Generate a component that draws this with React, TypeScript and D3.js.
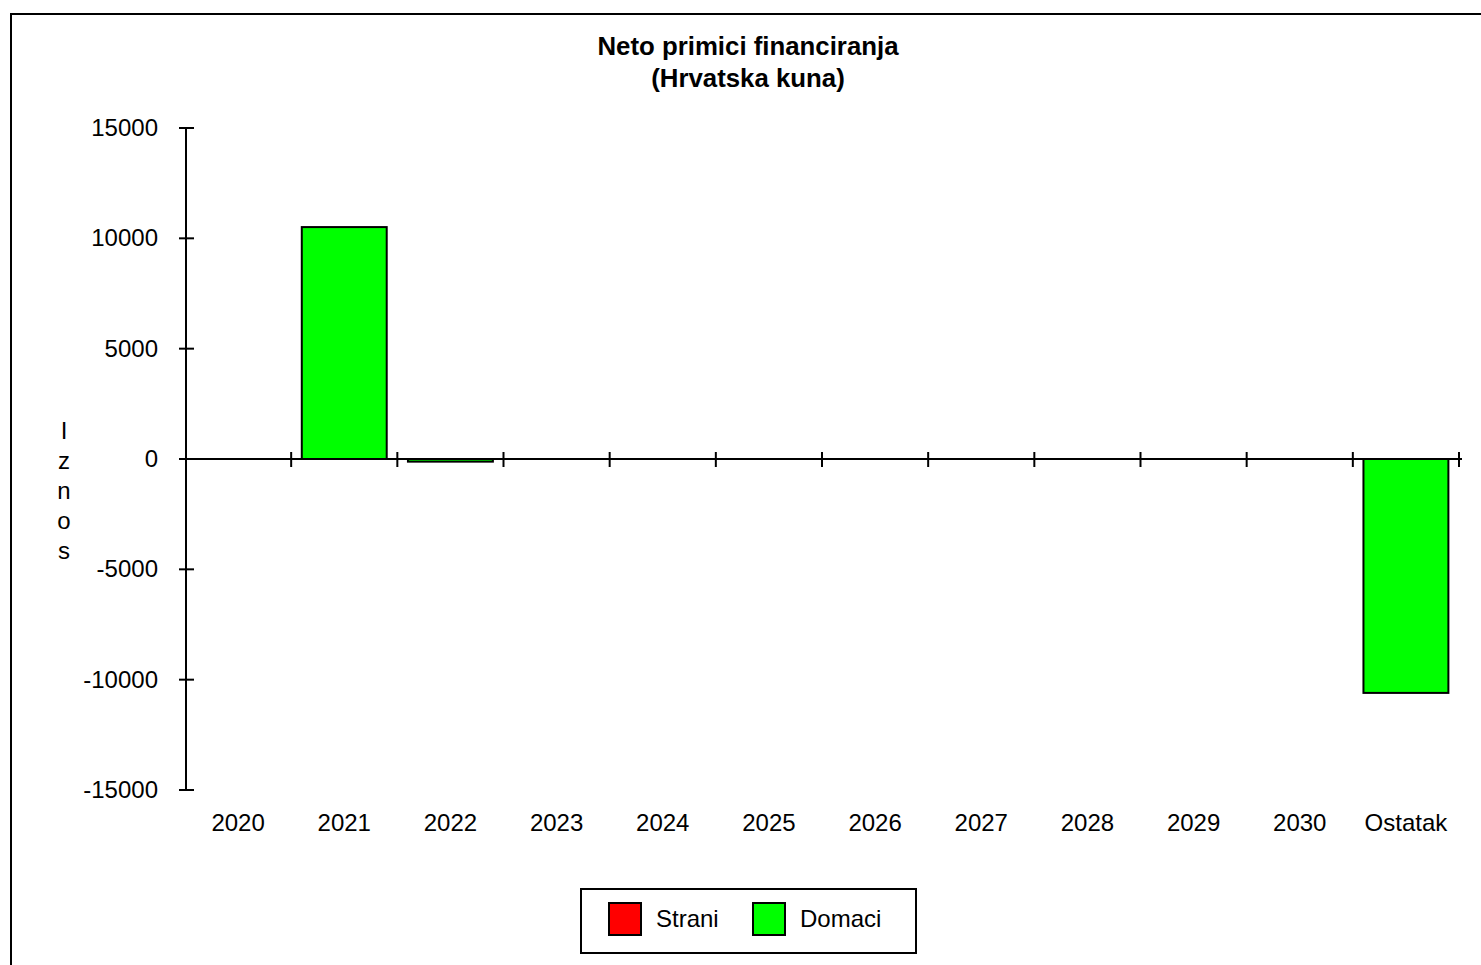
import React, { useEffect, useRef } from 'react';
import * as d3 from 'd3';

const categories = ['2020', '2021', '2022', '2023', '2024', '2025', '2026', '2027', '2028', '2029', '2030', 'Ostatak'];
const strani = [0, 0, 0, 0, 0, 0, 0, 0, 0, 0, 0, 0];
const domaci = [0, 10510, -120, 0, 0, 0, 0, 0, 0, 0, 0, -10600];
const yTicks = [-15000, -10000, -5000, 0, 5000, 10000, 15000];
const seriesNames = ['Strani', 'Domaci'];
const seriesColors = ['#ff0000', '#00ff00'];
const axisTitle = 'Iznos';

const W = 1481;
const H = 965;
const FONT = '"Liberation Sans", Arial, sans-serif';
const FS = 24;

const App: React.FC = () => {
  const ref = useRef<SVGSVGElement>(null);

  useEffect(() => {
    document.body.style.margin = '0';
    const svg = d3.select(ref.current);
    svg.selectAll('*').remove();

    // outer frame (runs off the right / bottom edge)
    svg.append('path')
      .attr('d', `M11,${H + 5}V14H${W + 5}`)
      .attr('fill', 'none')
      .attr('stroke', '#000')
      .attr('stroke-width', 2);

    svg.append('text')
      .attr('x', 748).attr('y', 55)
      .attr('text-anchor', 'middle')
      .attr('font-family', FONT).attr('font-size', 25.8).attr('font-weight', 'bold')
      .text('Neto primici financiranja');
    svg.append('text')
      .attr('x', 748).attr('y', 87)
      .attr('text-anchor', 'middle')
      .attr('font-family', FONT).attr('font-size', 25.8).attr('font-weight', 'bold')
      .text('(Hrvatska kuna)');

    const x = d3.scaleBand<string>()
      .domain(categories)
      .range([185, 1459])
      .paddingInner(0.2)
      .paddingOuter(0.1);
    const y = d3.scaleLinear().domain([-15000, 15000]).range([790, 128]);

    const table = categories.map((c, i) => ({ cat: c, Strani: strani[i], Domaci: domaci[i] }));
    const stacked = d3.stack<any>().keys(seriesNames).offset(d3.stackOffsetDiverging)(table);

    stacked.forEach((layer, li) => {
      svg.append('g')
        .selectAll('rect')
        .data(layer.filter(d => d[1] - d[0] !== 0))
        .enter()
        .append('rect')
        .attr('x', d => x(d.data.cat)!)
        .attr('y', d => y(Math.max(d[0], d[1])))
        .attr('width', x.bandwidth())
        .attr('height', d => Math.max(1, Math.abs(y(d[0]) - y(d[1]))))
        .attr('fill', seriesColors[li])
        .attr('stroke', '#000')
        .attr('stroke-width', 2);
    });

    // y axis
    const yAxis = svg.append('g');
    yAxis.append('line')
      .attr('x1', 186).attr('x2', 186)
      .attr('y1', y(15000)).attr('y2', y(-15000))
      .attr('stroke', '#000').attr('stroke-width', 2);
    yAxis.selectAll('line.tick')
      .data(yTicks)
      .enter()
      .append('line')
      .attr('class', 'tick')
      .attr('x1', 179).attr('x2', 194)
      .attr('y1', d => y(d)).attr('y2', d => y(d))
      .attr('stroke', '#000').attr('stroke-width', 2);
    yAxis.selectAll('text')
      .data(yTicks)
      .enter()
      .append('text')
      .attr('x', 158)
      .attr('y', d => y(d) + 8)
      .attr('text-anchor', 'end')
      .attr('font-family', FONT).attr('font-size', FS)
      .text(d => String(d));

    // x axis along zero
    const xAxis = svg.append('g');
    xAxis.append('line')
      .attr('x1', 185).attr('x2', 1462)
      .attr('y1', y(0)).attr('y2', y(0))
      .attr('stroke', '#000').attr('stroke-width', 2);
    const step = x.step();
    xAxis.selectAll('line.tick')
      .data(categories)
      .enter()
      .append('line')
      .attr('class', 'tick')
      .attr('x1', (d) => x(d)! - step * 0.1 + step)
      .attr('x2', (d) => x(d)! - step * 0.1 + step)
      .attr('y1', y(0) - 7).attr('y2', y(0) + 8)
      .attr('stroke', '#000').attr('stroke-width', 2);
    xAxis.selectAll('text')
      .data(categories)
      .enter()
      .append('text')
      .attr('x', d => x(d)! + x.bandwidth() / 2)
      .attr('y', 831)
      .attr('text-anchor', 'middle')
      .attr('font-family', FONT).attr('font-size', FS)
      .text(d => d);

    // vertical axis title, one letter per line
    svg.append('g')
      .selectAll('text')
      .data(axisTitle.split(''))
      .enter()
      .append('text')
      .attr('x', 64)
      .attr('y', (_, i) => 439 + i * 30)
      .attr('text-anchor', 'middle')
      .attr('font-family', FONT).attr('font-size', FS)
      .text(d => d);

    // legend
    const lg = svg.append('g');
    lg.append('rect')
      .attr('x', 581).attr('y', 889).attr('width', 335).attr('height', 64)
      .attr('fill', '#fff').attr('stroke', '#000').attr('stroke-width', 2);
    const legendX = [609, 753];
    seriesNames.forEach((name, i) => {
      lg.append('rect')
        .attr('x', legendX[i]).attr('y', 903).attr('width', 32).attr('height', 32)
        .attr('fill', seriesColors[i]).attr('stroke', '#000').attr('stroke-width', 2);
      lg.append('text')
        .attr('x', legendX[i] + 47).attr('y', 927)
        .attr('font-family', FONT).attr('font-size', FS)
        .text(name);
    });
  }, []);

  return (
    <svg
      ref={ref}
      width={W}
      height={H}
      style={{ position: 'absolute', left: 0, top: 0, background: '#fff' }}
    />
  );
};

export default App;
